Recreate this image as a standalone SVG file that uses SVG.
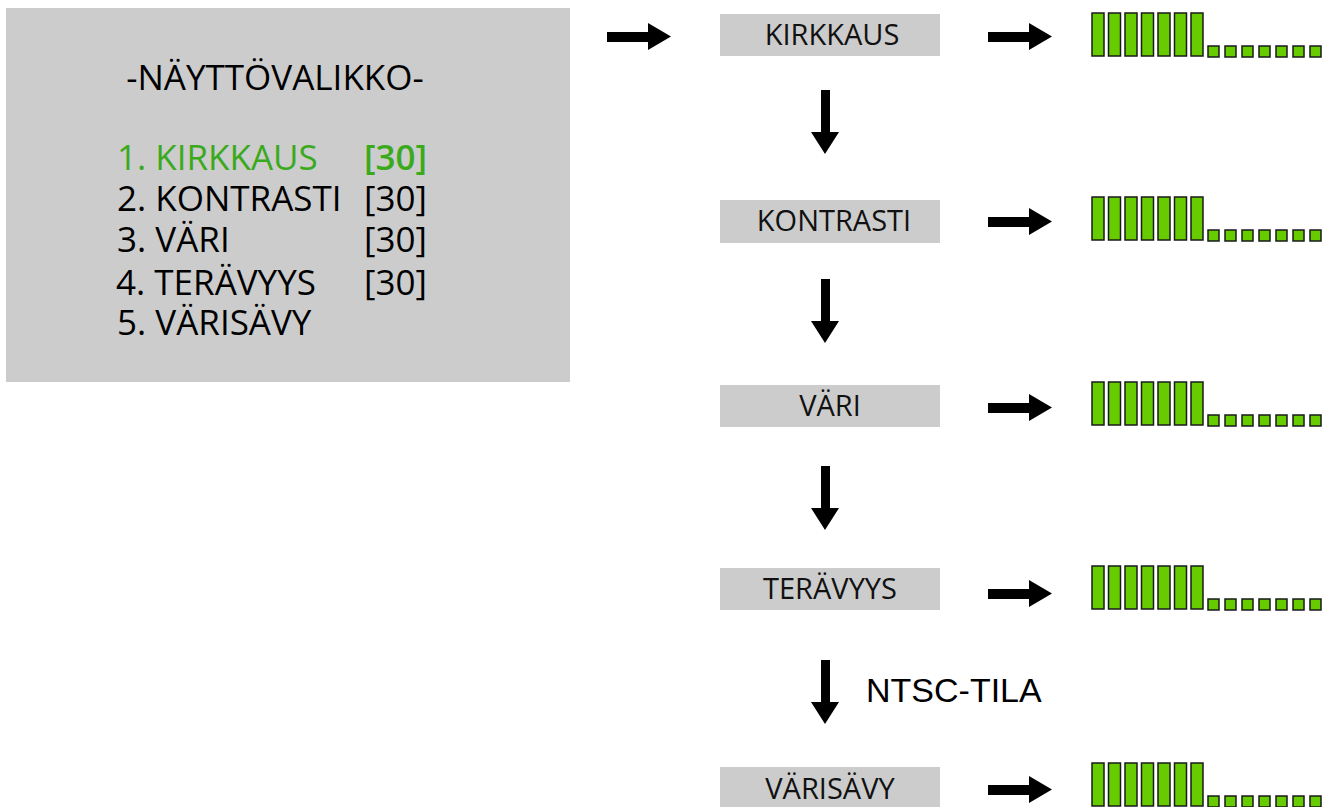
<svg xmlns="http://www.w3.org/2000/svg" width="1332" height="807" viewBox="0 0 1332 807">
<defs>
<style>
.menu{font-family:"Open Sans","Noto Sans",sans-serif;font-size:35px;fill:#000}
.green{fill:#3aaa1c}
.box{fill:#cccccc}
.lbl{font-family:"Open Sans","Noto Sans",sans-serif;font-size:29px;fill:#111;text-anchor:middle}
.bar{fill:#66cc00;stroke:#1a1a1a;stroke-width:1.5}
.arr{fill:#000}
</style>
<g id="bars">
<rect class="bar" x="1092" y="13" width="12" height="43"/>
<rect class="bar" x="1108.5" y="13" width="12" height="43"/>
<rect class="bar" x="1125" y="13" width="12" height="43"/>
<rect class="bar" x="1141.5" y="13" width="12" height="43"/>
<rect class="bar" x="1158" y="13" width="12" height="43"/>
<rect class="bar" x="1174.5" y="13" width="12" height="43"/>
<rect class="bar" x="1191" y="13" width="12" height="43"/>
<rect class="bar" x="1208" y="46" width="11" height="11"/>
<rect class="bar" x="1225" y="46" width="11" height="11"/>
<rect class="bar" x="1242" y="46" width="11" height="11"/>
<rect class="bar" x="1259" y="46" width="11" height="11"/>
<rect class="bar" x="1276" y="46" width="11" height="11"/>
<rect class="bar" x="1293" y="46" width="11" height="11"/>
<rect class="bar" x="1310" y="46" width="11" height="11"/>
</g>
</defs>
<g id="menu-panel">
<rect x="6" y="8" width="564" height="374" fill="#cccccc"/>
<text class="menu" x="275" y="90" text-anchor="middle">-NÄYTTÖVALIKKO-</text>
<text class="menu green" x="117" y="170">1. KIRKKAUS</text>
<text class="menu green" x="364" y="170" font-weight="600">[30]</text>
<text class="menu" x="117" y="211">2. KONTRASTI</text>
<text class="menu" x="364" y="211">[30]</text>
<text class="menu" x="117" y="252">3. VÄRI</text>
<text class="menu" x="364" y="252">[30]</text>
<text class="menu" x="116" y="295">4. TERÄVYYS</text>
<text class="menu" x="364" y="295">[30]</text>
<text class="menu" x="117" y="335">5. VÄRISÄVY</text>
</g>
<g id="node-kirkkaus"><rect class="box" x="720" y="14" width="220" height="42"/><text class="lbl" x="832" y="45">KIRKKAUS</text></g>
<g id="node-kontrasti"><rect class="box" x="720" y="200" width="220" height="43"/><text class="lbl" x="834" y="231">KONTRASTI</text></g>
<g id="node-vari"><rect class="box" x="720" y="385" width="220" height="42"/><text class="lbl" x="830" y="416">VÄRI</text></g>
<g id="node-teravyys"><rect class="box" x="720" y="568" width="220" height="42"/><text class="lbl" x="830" y="599">TERÄVYYS</text></g>
<g id="node-varisavy"><rect class="box" x="720" y="767" width="220" height="40"/><text class="lbl" x="830" y="799">VÄRISÄVY</text></g>
<g id="level-bars">
<use href="#bars"/>
<use href="#bars" y="184"/>
<use href="#bars" y="369"/>
<use href="#bars" y="553"/>
<use href="#bars" y="750"/>
</g>
<g id="connectors">
<path class="arr" d="M607,32 H648 V23 L671,36.5 L648,50 V42 H607 Z"/>
<path class="arr" d="M988,32 H1029 V23 L1052,36.5 L1029,50 V42 H988 Z"/>
<path class="arr" d="M988,217 H1029 V208 L1052,221.5 L1029,235 V227 H988 Z"/>
<path class="arr" d="M988,403 H1029 V394 L1052,407.5 L1029,421 V413 H988 Z"/>
<path class="arr" d="M988,589 H1029 V580 L1052,593.5 L1029,607 V599 H988 Z"/>
<path class="arr" d="M988,785 H1029 V776 L1052,789.5 L1029,803 V795 H988 Z"/>
<path class="arr" d="M821,90 H830 V132 H839 L825,154 L811,132 H821 Z"/>
<path class="arr" d="M821,279 H830 V321 H839 L825,343 L811,321 H821 Z"/>
<path class="arr" d="M821,466 H830 V508 H839 L825,530 L811,508 H821 Z"/>
<path class="arr" d="M821,660 H830 V702 H839 L825,724 L811,702 H821 Z"/>
<text x="866" y="702" font-family="Liberation Sans, Arial, sans-serif" font-size="34" fill="#000">NTSC-TILA</text>
</g>
</svg>
